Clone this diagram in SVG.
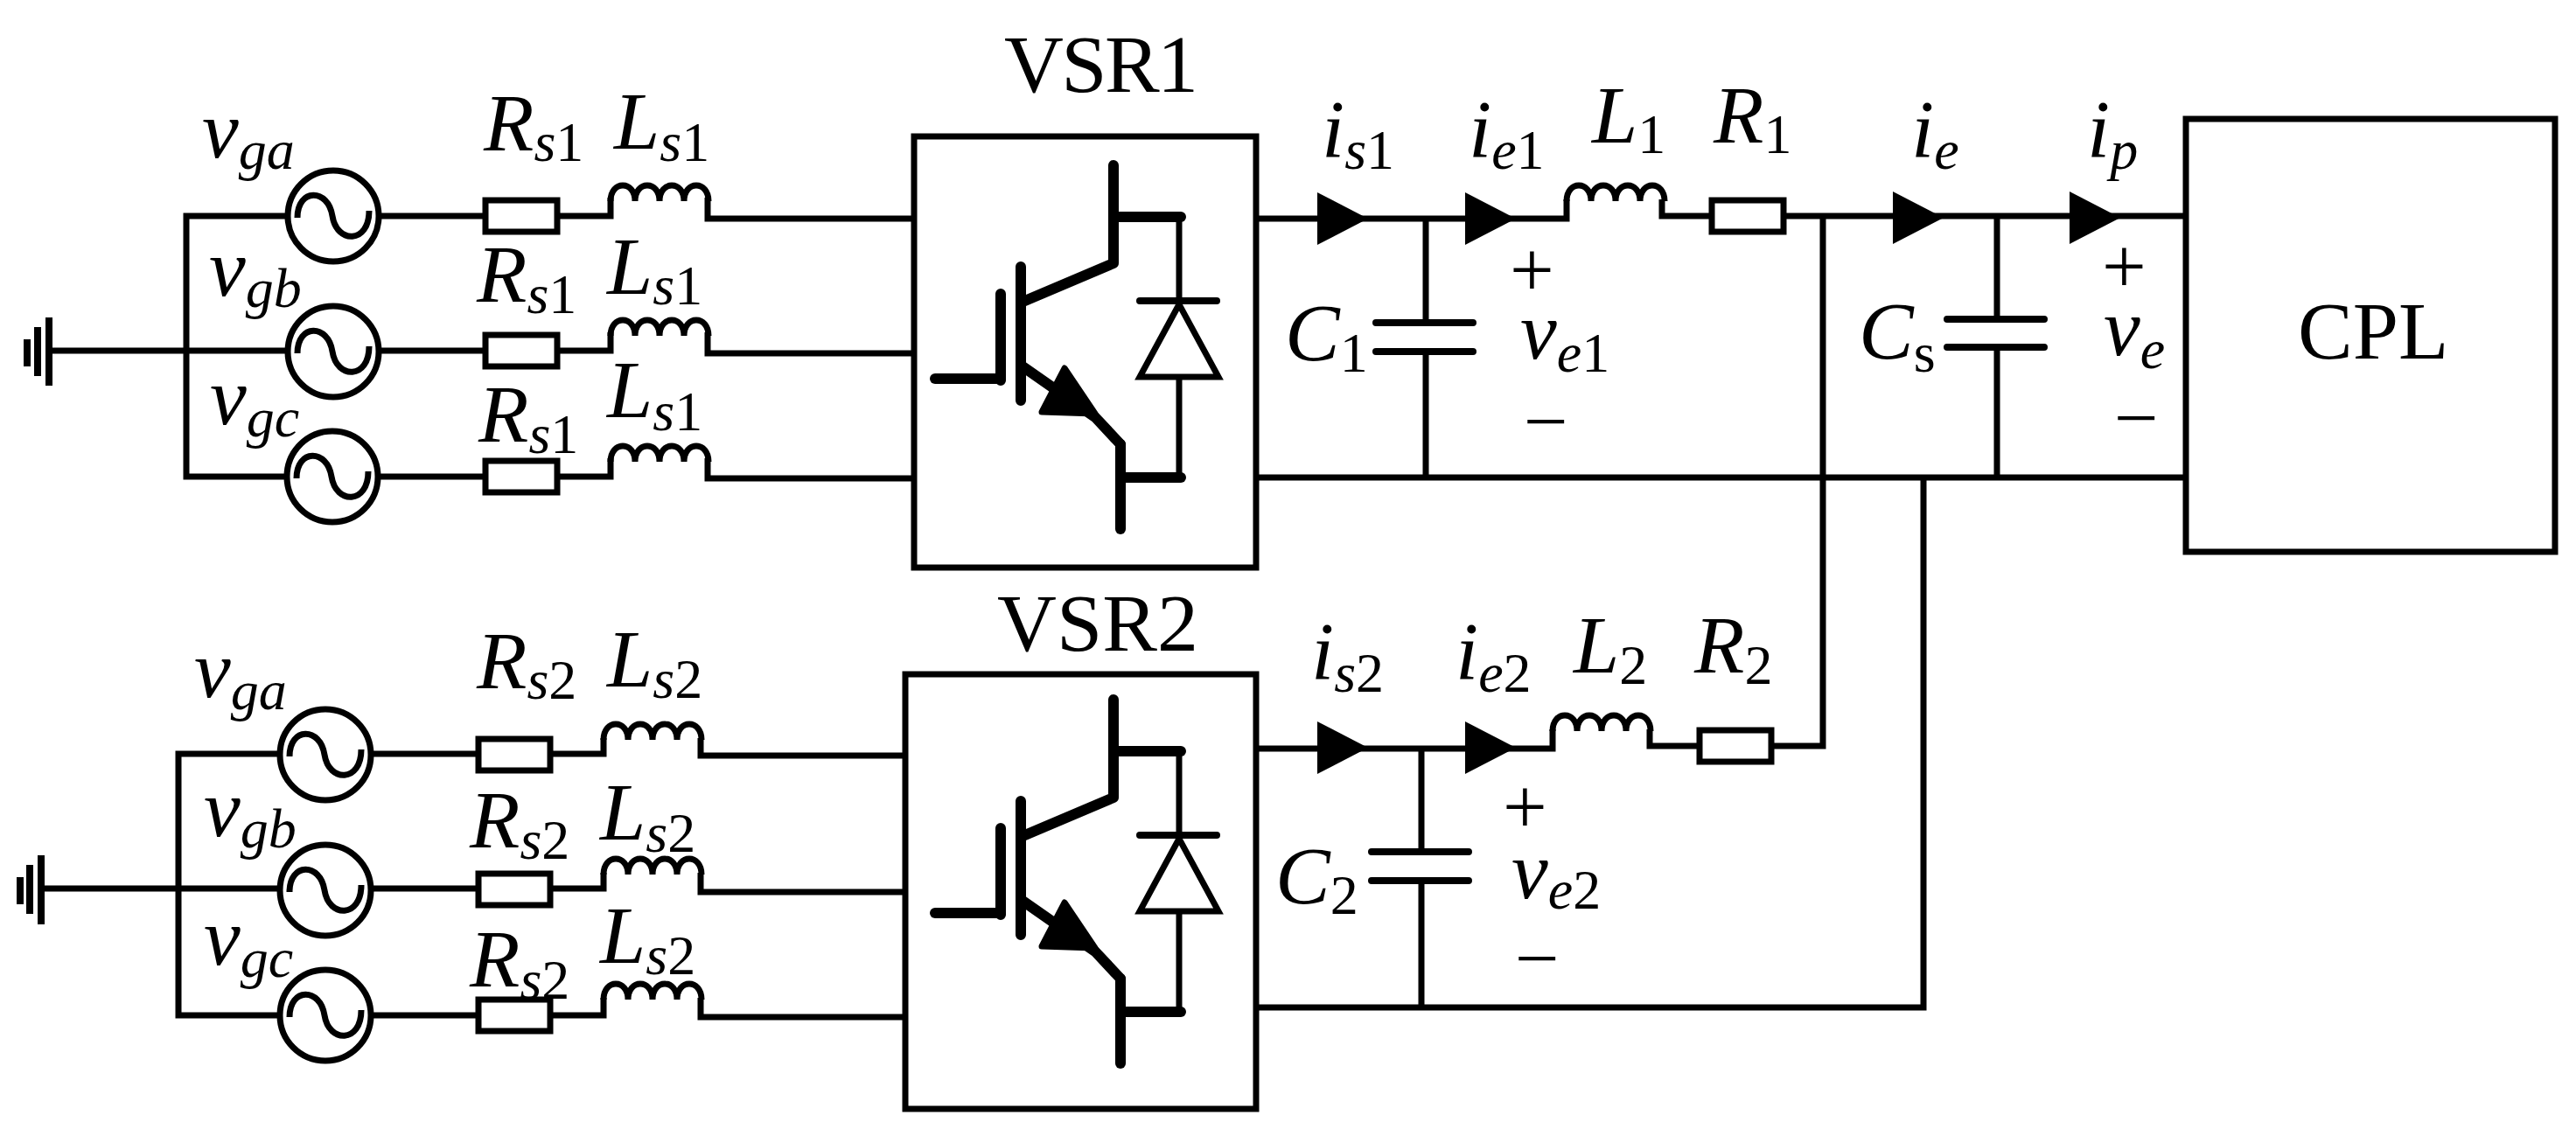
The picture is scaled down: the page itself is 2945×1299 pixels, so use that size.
<svg xmlns="http://www.w3.org/2000/svg" width="2945" height="1299" viewBox="0 0 2945 1299">
<style>
text{font-family:"Liberation Serif","Times New Roman",serif;font-size:94px;fill:#000}
.pm{font-size:90px}
.m{font-style:italic}
.s{font-size:64px;font-style:italic}
.d{font-size:64px;font-style:normal}
.w{fill:none;stroke:#000;stroke-width:7;stroke-linejoin:miter}
.g{fill:none;stroke:#000;stroke-width:8}
.box{fill:none;stroke:#000;stroke-width:7}
.res{fill:#fff;stroke:#000;stroke-width:7}
.src{fill:#fff;stroke:#000;stroke-width:7}
.sine{fill:none;stroke:#000;stroke-width:7}
.coil{fill:none;stroke:#000;stroke-width:7}
.plate{fill:none;stroke:#000;stroke-width:8;stroke-linecap:round}
.t1{fill:none;stroke:#000;stroke-width:12;stroke-linecap:round;stroke-linejoin:round}
.t2{fill:none;stroke:#000;stroke-width:7}
.ah{fill:#000;stroke:#000;stroke-width:7;stroke-linejoin:round}
.dt{fill:#fff;stroke:#000;stroke-width:7}
</style>
<defs>
<g id="source"><circle class="src" r="52"/><path class="sine" d="M-41 2C-41 -32 -6 -32 -1 0C4 32 41 32 41 -6"/></g>
<path id="coil" class="coil" d="M0 0C0 -24 28 -24 28 0C28 -24 56 -24 56 0C56 -24 84 -24 84 0C84 -24 112 -24 112 0"/>
<rect id="resistor" class="res" x="0" y="-18" width="82" height="36"/>
<polygon id="arrow" points="0,-30 58,0 0,30" fill="#000"/>
<g id="igbt">
<path class="t1" stroke-linecap="butt" d="M0 -244V-132L-106 -87"/>
<path class="t1" d="M0 -185H77"/>
<path class="t1" d="M-106 -128V25M-129 -97V2"/>
<path class="t1" stroke-width="14" d="M-204 0H-129"/>
<path class="t1" d="M-104 -14L-21 44L8 75"/>
<path class="t1" stroke-linecap="butt" d="M8 75V172"/>
<path class="t1" d="M11 113H77"/>
<path class="ah" d="M-56 -12L-21 40L-82 38Z"/>
<path class="t2" d="M75 -185V-93M75 -2V113"/>
<path class="plate" stroke-linecap="butt" d="M30 -89H118"/>
<path class="dt" d="M75 -85L30 -2H120Z"/>
</g>
</defs>
<rect width="2945" height="1299" fill="#fff"/>

<g id="connectors">
<path class="w" d="M56 401H329"/>
<path class="w" d="M329 247H213V545H328"/>
<path class="w" d="M433 247H555M637 247H698V226M809 226V250H1045"/>
<path class="w" d="M433 401H555M637 401H698V380M809 380V404H1045"/>
<path class="w" d="M433 545H555M637 545H698V524M809 524V547H1045"/>
<path class="w" d="M47 1016H319"/>
<path class="w" d="M320 862H204V1161H319"/>
<path class="w" d="M425 862H547M629 862H690V844M801 844V864H1035"/>
<path class="w" d="M425 1016H547M629 1016H690V998M801 998V1020H1035"/>
<path class="w" d="M425 1161H547M629 1161H690V1141M801 1141V1163H1035"/>
<path class="w" d="M1436 250H1791V228M1900 228V247H1957"/>
<path class="w" d="M2037 247H2499"/>
<path class="w" d="M1436 546H2499"/>
<path class="w" d="M1630 250V369M1630 402V546"/>
<path class="w" d="M2283 247V365M2283 397V546"/>
<path class="w" d="M2084 247V853H2024"/>
<path class="w" d="M2199 546V1152H1436"/>
<path class="w" d="M1436 856H1775V834M1886 834V853H1943"/>
<path class="w" d="M1625 856V974M1625 1007V1152"/>
<use href="#arrow" x="1506" y="250"/>
<use href="#arrow" x="1675" y="250"/>
<use href="#arrow" x="2164" y="249"/>
<use href="#arrow" x="2366" y="249"/>
<use href="#arrow" x="1506" y="855"/>
<use href="#arrow" x="1675" y="855"/>
</g>

<g id="ground1"><path class="g" d="M56 363V441M43 374V430M31 388V419"/></g>
<g id="ground2"><path class="g" d="M47 978V1057M34 989V1045M23 1003V1034"/></g>

<g id="source-a1"><use href="#source" x="381" y="247"/><text class="m" x="231" y="180">v<tspan class="s" dy="13">ga</tspan></text></g>
<g id="source-b1"><use href="#source" x="381" y="402"/><text class="m" x="239" y="338">v<tspan class="s" dy="13">gb</tspan></text></g>
<g id="source-c1"><use href="#source" x="380" y="545"/><text class="m" x="240" y="485">v<tspan class="s" dy="14">gc</tspan></text></g>
<g id="source-a2"><use href="#source" x="372" y="863"/><text class="m" x="222" y="797">v<tspan class="s" dy="14">ga</tspan></text></g>
<g id="source-b2"><use href="#source" x="372" y="1018"/><text class="m" x="233" y="956">v<tspan class="s" dy="13">gb</tspan></text></g>
<g id="source-c2"><use href="#source" x="372" y="1161"/><text class="m" x="233" y="1103">v<tspan class="s" dy="14">gc</tspan></text></g>

<g id="rs1-a"><use href="#resistor" x="555" y="247"/><text class="m" x="553" y="172">R<tspan class="s" dy="12">s</tspan><tspan class="d">1</tspan></text></g>
<g id="rs1-b"><use href="#resistor" x="555" y="401"/><text class="m" x="545" y="345">R<tspan class="s" dy="13">s</tspan><tspan class="d">1</tspan></text></g>
<g id="rs1-c"><use href="#resistor" x="555" y="545"/><text class="m" x="547" y="505">R<tspan class="s" dy="13">s</tspan><tspan class="d">1</tspan></text></g>
<g id="ls1-a"><use href="#coil" x="698" y="230"/><text class="m" x="702" y="170">L<tspan class="s" dy="14">s</tspan><tspan class="d">1</tspan></text></g>
<g id="ls1-b"><use href="#coil" x="698" y="384"/><text class="m" x="694" y="336">L<tspan class="s" dy="12">s</tspan><tspan class="d">1</tspan></text></g>
<g id="ls1-c"><use href="#coil" x="698" y="528"/><text class="m" x="694" y="477">L<tspan class="s" dy="15">s</tspan><tspan class="d">1</tspan></text></g>

<g id="rs2-a"><use href="#resistor" x="547" y="863"/><text class="m" x="545" y="787">R<tspan class="s" dy="12">s</tspan><tspan class="d">2</tspan></text></g>
<g id="rs2-b"><use href="#resistor" x="547" y="1017"/><text class="m" x="537" y="969">R<tspan class="s" dy="13">s</tspan><tspan class="d">2</tspan></text></g>
<g id="rs2-c"><use href="#resistor" x="547" y="1161"/><text class="m" x="537" y="1128">R<tspan class="s" dy="14">s</tspan><tspan class="d">2</tspan></text></g>
<g id="ls2-a"><use href="#coil" x="690" y="846"/><text class="m" x="694" y="785">L<tspan class="s" dy="13">s</tspan><tspan class="d">2</tspan></text></g>
<g id="ls2-b"><use href="#coil" x="690" y="1000"/><text class="m" x="686" y="960">L<tspan class="s" dy="14">s</tspan><tspan class="d">2</tspan></text></g>
<g id="ls2-c"><use href="#coil" x="690" y="1143"/><text class="m" x="686" y="1101">L<tspan class="s" dy="13">s</tspan><tspan class="d">2</tspan></text></g>

<g id="vsr1">
<rect class="box" x="1045" y="156" width="391" height="493"/>
<use href="#igbt" x="1273" y="433"/>
<text x="1148" y="105" textLength="222">VSR1</text>
</g>
<g id="vsr2">
<rect class="box" x="1035" y="771" width="401" height="497"/>
<use href="#igbt" x="1273" y="1044"/>
<text x="1140" y="744" textLength="230">VSR2</text>
</g>

<g id="i-s1"><text class="m" x="1511" y="179">i<tspan class="s" dy="14">s</tspan><tspan class="d">1</tspan></text></g>
<g id="i-e1"><text class="m" x="1679" y="179">i<tspan class="s" dy="14">e</tspan><tspan class="d">1</tspan></text></g>
<g id="i-s2"><text class="m" x="1499" y="776">i<tspan class="s" dy="15">s</tspan><tspan class="d">2</tspan></text></g>
<g id="i-e2"><text class="m" x="1664" y="776">i<tspan class="s" dy="15">e</tspan><tspan class="d">2</tspan></text></g>
<g id="i-e"><text class="m" x="2185" y="179">i<tspan class="s" dy="14">e</tspan></text></g>
<g id="i-p"><text class="m" x="2386" y="179">i<tspan class="s" dy="14">p</tspan></text></g>

<g id="l1"><use href="#coil" x="1791" y="230"/><text class="m" x="1820" y="163">L<tspan class="d" dy="12">1</tspan></text></g>
<g id="r1"><use href="#resistor" x="1957" y="247"/><text class="m" x="1959" y="163">R<tspan class="d" dy="12">1</tspan></text></g>
<g id="l2"><use href="#coil" x="1775" y="836"/><text class="m" x="1799" y="769">L<tspan class="d" dy="13">2</tspan></text></g>
<g id="r2"><use href="#resistor" x="1943" y="853"/><text class="m" x="1937" y="769">R<tspan class="d" dy="13">2</tspan></text></g>

<g id="c1"><path class="plate" d="M1573 369H1684M1573 402H1684"/><text class="m" x="1469" y="412">C<tspan class="d" dy="13">1</tspan></text></g>
<g id="c2"><path class="plate" d="M1568 974H1679M1568 1007H1679"/><text class="m" x="1458" y="1033">C<tspan class="d" dy="12">2</tspan></text></g>
<g id="cs"><path class="plate" d="M2226 365H2337M2226 397H2337"/><text class="m" x="2125" y="410">C<tspan class="d" dy="15">s</tspan></text></g>

<g id="v-e1"><text class="pm" x="1726" y="339">+</text><text class="m" x="1738" y="410">v<tspan class="s" dy="15">e</tspan><tspan class="d">1</tspan></text><text class="pm" x="1742" y="512">−</text></g>
<g id="v-e2"><text class="pm" x="1718" y="953">+</text><text class="m" x="1728" y="1027">v<tspan class="s" dy="12">e</tspan><tspan class="d">2</tspan></text><text class="pm" x="1732" y="1126">−</text></g>
<g id="v-e"><text class="pm" x="2403" y="335">+</text><text class="m" x="2405" y="406">v<tspan class="s" dy="15">e</tspan></text><text class="pm" x="2417" y="508">−</text></g>

<g id="cpl"><rect class="box" x="2499" y="136" width="422" height="495"/><text x="2627" y="410">CPL</text></g>
</svg>
